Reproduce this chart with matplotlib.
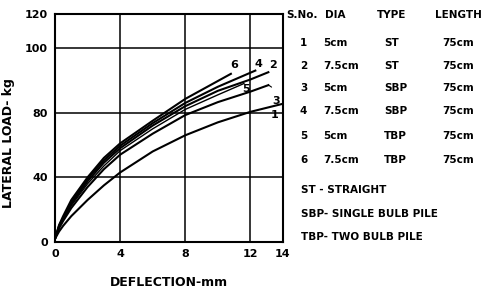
import matplotlib.pyplot as plt

# (deflection in mm, load on the 40-per-grid scale)
x1 = [0, 0.25, 0.5, 1, 2, 3, 4, 6, 8, 10, 12, 14]
y1 = [2, 6.5, 10, 16, 26, 35, 43, 56, 66, 74, 80.5, 85.5]
x3 = [0, 0.25, 0.5, 1, 2, 3, 4, 6, 8, 10, 12, 13.1]
y3 = [2, 8.5, 13, 21, 34, 45, 54, 67, 78.5, 86.5, 93, 97]
x5 = [0, 0.25, 0.5, 1, 2, 3, 4, 6, 8, 10, 11.6]
y5 = [2, 9, 14, 22.5, 36, 47, 56.5, 70, 82, 91, 98]
x2 = [0, 0.25, 0.5, 1, 2, 3, 4, 6, 8, 10, 12, 13.1]
y2 = [2, 9.5, 14.5, 23.5, 37.5, 49, 58, 72, 84, 93.5, 100.5, 105]
x4 = [0, 0.25, 0.5, 1, 2, 3, 4, 6, 8, 10, 12.3]
y4 = [2, 10, 15, 24.5, 39, 50.5, 59.5, 73.5, 86, 96, 106]
x6 = [0, 0.25, 0.5, 1, 2, 3, 4, 6, 8, 10.8]
y6 = [2, 10.5, 16, 26, 40, 52, 61, 75, 88.5, 104]

curve_labels = ['6', '4', '2', '5', '1']
label_x = [11.0, 12.5, 13.4, 11.7, 13.5]
label_y = [109.6, 110, 109.6, 94.5, 78.6]

ytick_pos = [0, 40, 80, 120, 141]
ytick_txt = ['0', '40', '80', '100', '120']
xtick_pos = [0, 4, 8, 12, 14]

header = ['S.No.', 'DIA', 'TYPE', 'LENGTH']
sno = ['1', '2', '3', '4', '5', '6']
dia = ['5cm', '7.5cm', '5cm', '7.5cm', '5cm', '7.5cm']
ptype = ['ST', 'ST', 'SBP', 'SBP', 'TBP', 'TBP']
length = ['75cm'] * 6
notes = ['ST - STRAIGHT', 'SBP- SINGLE BULB PILE', 'TBP- TWO BULB PILE']

W, H = 486, 291
fig = plt.figure(figsize=(4.86, 2.91), dpi=100)
ax = fig.add_axes([55 / W, 1 - 242 / H, (283 - 55) / W, (242 - 14) / H])

for v in [4, 8, 12]:
    ax.axvline(v, color='black', lw=1.1, zorder=1)
for h in [40, 80, 120]:
    ax.axhline(h, color='black', lw=1.1, zorder=1)

for xs, ys in [(x1, y1), (x3, y3), (x2, y2), (x4, y4), (x6, y6)]:
    ax.plot(xs, ys, color='black', lw=1.5, zorder=3)
ax.plot(x5, y5, color='black', lw=1.0, zorder=3)

for t, lx, ly in zip(curve_labels, label_x, label_y):
    ax.text(lx, ly, t, fontsize=8, fontweight='bold', ha='center', va='center')
# label 3 hangs off the end of its curve with a small hook
ax.annotate('3', xy=(x3[-1], y3[-1]), xytext=(13.55, 87.5),
            fontsize=8, fontweight='bold', ha='center', va='center',
            arrowprops=dict(arrowstyle='-', lw=0.8, color='black',
                            shrinkA=5, shrinkB=0,
                            connectionstyle='arc3,rad=0.4'))

ax.set_xlim(0, 14)
ax.set_ylim(0, 141)
ax.set_xticks(xtick_pos)
ax.set_xticklabels([str(v) for v in xtick_pos], fontsize=8, fontweight='bold')
ax.set_yticks(ytick_pos)
ax.set_yticklabels(ytick_txt, fontsize=8, fontweight='bold')
ax.tick_params(length=0, pad=5)
for s in ax.spines.values():
    s.set_linewidth(1.5)

ax.set_xlabel('DEFLECTION-mm', fontsize=9, fontweight='bold', labelpad=12)
ax.set_ylabel('LATERAL LOAD- kg', fontsize=9, fontweight='bold')
ax.yaxis.set_label_coords(-0.175, 0.434)

# legend table on the right, in figure pixels
def ftext(px, py, s, **kw):
    fig.text(px / W, 1 - py / H, s, fontsize=7.5, fontweight='bold', va='center', **kw)

ftext(286, 15, header[0])
ftext(325, 15, header[1])
ftext(377, 15, header[2])
ftext(435, 15, header[3])
row_y = [43, 66, 88, 111, 136, 160]
for i, ry in enumerate(row_y):
    ftext(300, ry, sno[i])
    ftext(323, ry, dia[i])
    ftext(384, ry, ptype[i])
    ftext(442, ry, length[i])
for ny, n in zip([190, 214, 237], notes):
    ftext(301, ny, n)

fig.savefig('out.png', dpi=100)
